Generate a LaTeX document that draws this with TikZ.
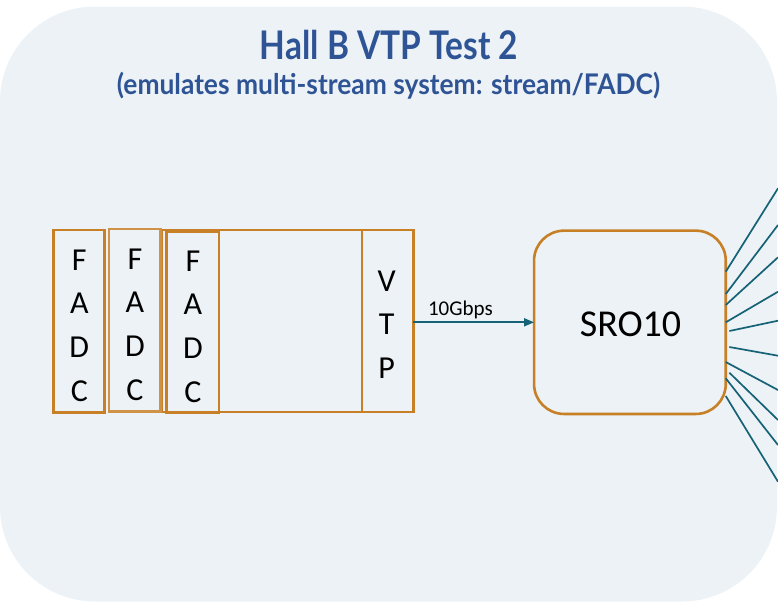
\documentclass[tikz,border=0pt]{standalone}
\usepackage{graphicx}
\usepackage{fontspec}
\setmainfont{Carlito}
\newfontfamily\headfont{Lato}
\usetikzlibrary{arrows.meta,calc}

\definecolor{panelbg}{RGB}{236,242,245}
\definecolor{headblue}{RGB}{46,84,150}
\definecolor{boardline}{RGB}{200,128,38}
\definecolor{boardlinelight}{RGB}{208,146,70}
\definecolor{linkteal}{RGB}{22,98,118}

\tikzset{
  board/.style={draw=boardline, line width=2.6pt, rectangle, inner sep=0pt, outer sep=0pt},
  letters/.style={font=\fontsize{32}{43.8}\selectfont, align=center, inner sep=0pt, text=black},
  router/.style={draw=boardline, line width=2.6pt, rectangle, rounded corners=30pt,
                 inner sep=0pt, outer sep=0pt, fill=panelbg},
  link/.style={draw=linkteal, line width=1.7pt},
  heading/.style={anchor=base, inner sep=0pt, text=headblue},
}

\begin{document}
\begin{tikzpicture}[x=1pt,y=-1pt]
  \useasboundingbox (0,0) rectangle (778,606);

  % panel
  \fill[panelbg, rounded corners=95pt] (0,6.5) rectangle (777,601.5);

  % headings
  \node[heading] (title) at (389,59.3)
    {\resizebox{258pt}{29.3pt}{\headfont\bfseries Hall B VTP Test 2}};
  \node[heading] (subtitle) at (388.5,94.3)
    {\resizebox{543pt}{22.3pt}{\headfont\bfseries (emulates multi-stream system: stream/FADC)}};

  % crate with VTP board
  \node[board, minimum width=251.6pt, minimum height=182pt] (crate) at (287.5,321) {};
  \node[board, minimum width=51.3pt, minimum height=182pt] (vtp) at (387.7,321) {};
  \node[letters] (vtptxt) at (386.7,324.6) {V\\T\\P};

  % FADC boards
  \node[board, minimum width=51pt, minimum height=182.7pt] (fadc1) at (78.8,321.3) {};
  \node[letters] (fadc1txt) at (79.3,325.6) {F\\A\\D\\C};
  \node[board, draw=boardlinelight, minimum width=51.7pt, minimum height=182.7pt] (fadc2) at (134.8,320.3) {};
  \node[letters] (fadc2txt) at (135,324.6) {F\\A\\D\\C};
  \node[board, minimum width=52.3pt, minimum height=181pt] (fadc3) at (192.8,322.5) {};
  \node[letters] (fadc3txt) at (193,326.6) {F\\A\\D\\C};

  % stream router
  \node[router, minimum width=191.7pt, minimum height=183.3pt] (sro) at (629.9,322.3) {};
  \node[font=\fontsize{38}{40}\selectfont, inner sep=0pt] (srotxt) at (630.5,324) {SRO10};

  % 10G link
  \draw[link, -{Triangle[length=10pt,width=8pt]}] (vtp.east |- sro.west) -- (sro.west);
  \node[anchor=base west, inner sep=0pt, font=\fontsize{21}{24}\selectfont] (rate) at (427.8,315.7) {10Gbps};

  % outgoing streams
  \coordinate (o1) at (778,188.3);
  \coordinate (o2) at (778,225);
  \coordinate (o3) at (778,257.3);
  \coordinate (o4) at (778,291.7);
  \coordinate (o5) at (778,320.7);
  \coordinate (o6) at (778,355.7);
  \coordinate (o7) at (778,390);
  \coordinate (o8) at (778,420);
  \coordinate (o9) at (778,445);
  \coordinate (o10) at (778,481.7);
  \draw[link] ($(sro.east)+(0,-50.6)$) -- (o1);
  \draw[link] ($(sro.east)+(0,-28.3)$) -- (o2);
  \draw[link] ($(sro.east)+(0,-17.3)$) -- (o3);
  \draw[link] (sro.east) -- (o4);
  \draw[link] ($(sro.east)+(3.6,8.7)$) -- (o5);
  \draw[link] ($(sro.east)+(3.6,24.7)$) -- (o6);
  \draw[link] ($(sro.east)+(0,39.7)$) -- (o7);
  \draw[link] ($(sro.east)+(3.6,50.4)$) -- (o8);
  \draw[link] ($(sro.east)+(0,56)$) -- (o9);
  \draw[link] ($(sro.east)+(0,73.7)$) -- (o10);
\end{tikzpicture}
\end{document}
